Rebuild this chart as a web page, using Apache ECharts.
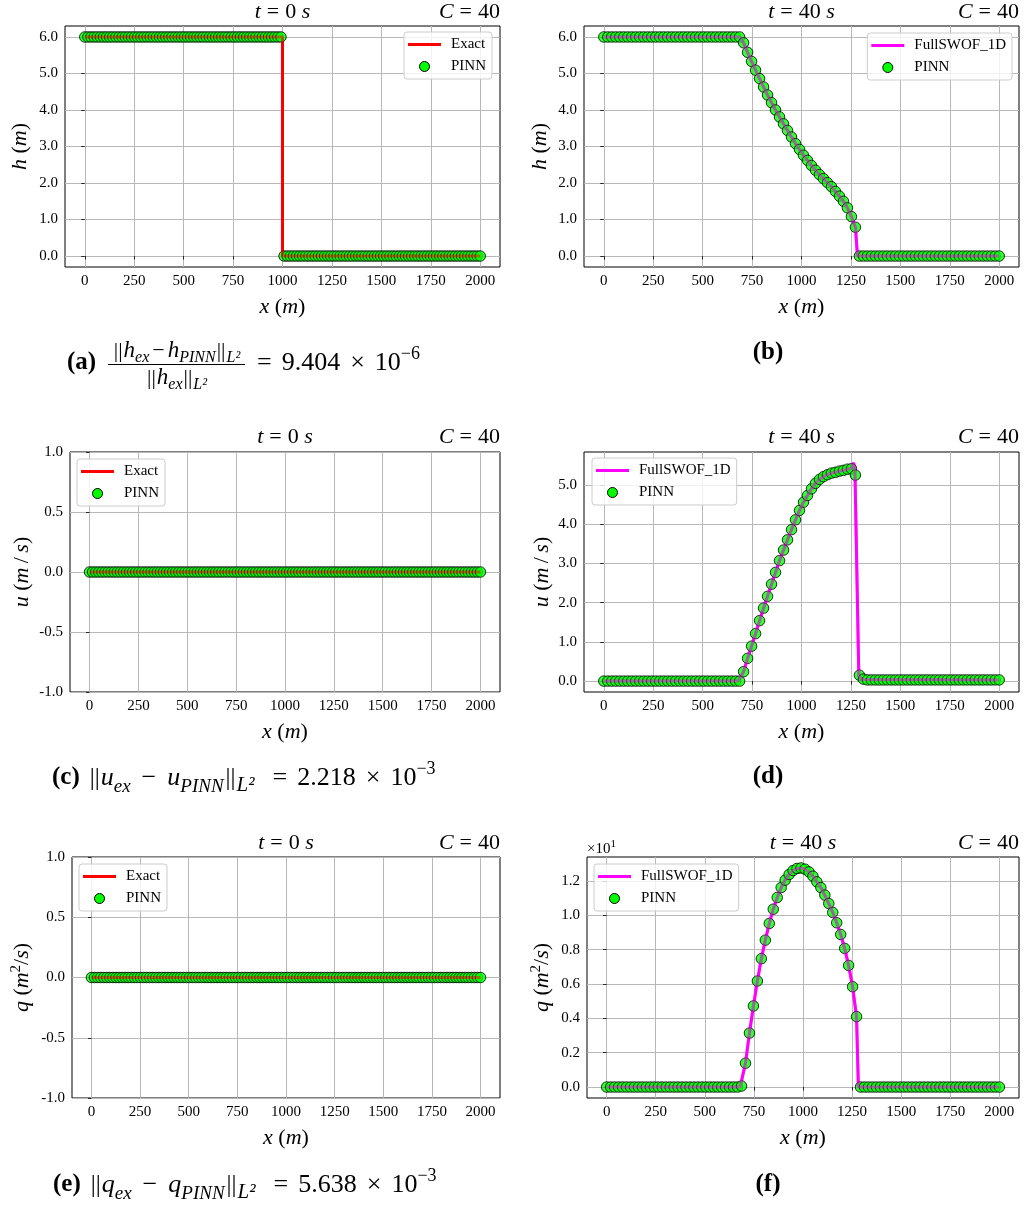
<!DOCTYPE html>
<html><head><meta charset="utf-8">
<script src="https://cdn.jsdelivr.net/npm/echarts@6/dist/echarts.min.js"></script>
<style>html,body{margin:0;padding:0;background:#fff}#c{width:1024px;height:1207px}</style>
</head><body><div id="c"></div><script>
// ---------------- DATA ----------------
const xTicks = [0,250,500,750,1000,1250,1500,1750,2000];
const hTicks = [0,1,2,3,4,5,6];
const uTicks0 = [-1,-0.5,0,0.5,1];
const uTicks40 = [0,1,2,3,4,5];
const qTicks0 = [-1,-0.5,0,0.5,1];
const qTicks40 = [0,2,4,6,8,10,12]; // shown as 0.0..1.2 (x10^1)

// t = 0 s : exact solution
const xExact0 = [0,1000,1000,2000];
const hExact0 = [6,6,0,0];
const uExact0 = [0,0,0,0];
const qExact0 = [0,0,0,0];

// t = 0 s : PINN sample locations (m)
const xPinn0 = [0,15.7,31.5,47.2,63.0,78.7,94.5,110.2,126.0,141.7,
157.5,173.2,189.0,204.7,220.5,236.2,252.0,267.7,283.5,299.2,
315.0,330.7,346.5,362.2,378.0,393.7,409.4,425.2,440.9,456.7,
472.4,488.2,503.9,519.7,535.4,551.2,566.9,582.7,598.4,614.2,
629.9,645.7,661.4,677.2,692.9,708.7,724.4,740.2,755.9,771.7,
787.4,803.1,818.9,834.6,850.4,866.1,881.9,897.6,913.4,929.1,
944.9,960.6,976.4,992.1,1007.9,1023.6,1039.4,1055.1,1070.9,1086.6,
1102.4,1118.1,1133.9,1149.6,1165.4,1181.1,1196.9,1212.6,1228.3,1244.1,
1259.8,1275.6,1291.3,1307.1,1322.8,1338.6,1354.3,1370.1,1385.8,1401.6,
1417.3,1433.1,1448.8,1464.6,1480.3,1496.1,1511.8,1527.6,1543.3,1559.1,
1574.8,1590.6,1606.3,1622.0,1637.8,1653.5,1669.3,1685.0,1700.8,1716.5,
1732.3,1748.0,1763.8,1779.5,1795.3,1811.0,1826.8,1842.5,1858.3,1874.0,
1889.8,1905.5,1921.3,1937.0,1952.8,1968.5,1984.3,2000];
const hPinn0 = [6,6,6,6,6,6,6,6,6,6, 6,6,6,6,6,6,6,6,6,6, 6,6,6,6,6,6,6,6,6,6,
6,6,6,6,6,6,6,6,6,6, 6,6,6,6,6,6,6,6,6,6, 6,6,6,6,6,6,6,6,6,6, 6,6,6,6,
0,0,0,0,0,0,0,0,0,0, 0,0,0,0,0,0,0,0,0,0, 0,0,0,0,0,0,0,0,0,0,
0,0,0,0,0,0,0,0,0,0, 0,0,0,0,0,0,0,0,0,0, 0,0,0,0,0,0,0,0,0,0, 0,0,0,0];
const uPinn0 = [0,0,0,0,0,0,0,0,0,0, 0,0,0,0,0,0,0,0,0,0, 0,0,0,0,0,0,0,0,0,0,
0,0,0,0,0,0,0,0,0,0, 0,0,0,0,0,0,0,0,0,0, 0,0,0,0,0,0,0,0,0,0, 0,0,0,0,
0,0,0,0,0,0,0,0,0,0, 0,0,0,0,0,0,0,0,0,0, 0,0,0,0,0,0,0,0,0,0,
0,0,0,0,0,0,0,0,0,0, 0,0,0,0,0,0,0,0,0,0, 0,0,0,0,0,0,0,0,0,0, 0,0,0,0];
const qPinn0 = [0,0,0,0,0,0,0,0,0,0, 0,0,0,0,0,0,0,0,0,0, 0,0,0,0,0,0,0,0,0,0,
0,0,0,0,0,0,0,0,0,0, 0,0,0,0,0,0,0,0,0,0, 0,0,0,0,0,0,0,0,0,0, 0,0,0,0,
0,0,0,0,0,0,0,0,0,0, 0,0,0,0,0,0,0,0,0,0, 0,0,0,0,0,0,0,0,0,0,
0,0,0,0,0,0,0,0,0,0, 0,0,0,0,0,0,0,0,0,0, 0,0,0,0,0,0,0,0,0,0, 0,0,0,0];

// t = 40 s : PINN sample locations (m)
const xPinn40 = [0,20.2,40.4,60.6,80.8,101.0,121.2,141.4,161.6,181.8,
202.0,222.2,242.4,262.6,282.8,303.0,323.2,343.4,363.6,383.8,
404.0,424.2,444.4,464.6,484.8,505.1,525.3,545.5,565.7,585.9,
606.1,626.3,646.5,666.7,686.9,707.1,727.3,747.5,767.7,787.9,
808.1,828.3,848.5,868.7,888.9,909.1,929.3,949.5,969.7,989.9,
1010.1,1030.3,1050.5,1070.7,1090.9,1111.1,1131.3,1151.5,1171.7,1191.9,
1212.1,1232.3,1252.5,1272.7,1292.9,1313.1,1333.3,1353.5,1373.7,1393.9,
1414.1,1434.3,1454.5,1474.7,1494.9,1515.2,1535.4,1555.6,1575.8,1596.0,
1616.2,1636.4,1656.6,1676.8,1697.0,1717.2,1737.4,1757.6,1777.8,1798.0,
1818.2,1838.4,1858.6,1878.8,1899.0,1919.2,1939.4,1959.6,1979.8,2000];
const hPinn40 = [6,6,6,6,6,6,6,6,6,6, 6,6,6,6,6,6,6,6,6,6, 6,6,6,6,6,6,6,6,6,6,
6,6,6,6,6,5.84,5.58,5.33,5.09,4.86,
4.63,4.41,4.20,4.00,3.81,3.62,3.44,3.26,3.08,2.92,
2.76,2.62,2.48,2.35,2.23,2.12,2.01,1.90,1.77,1.64,
1.50,1.32,1.08,0.79,0,0,0,0,0,0,
0,0,0,0,0,0,0,0,0,0, 0,0,0,0,0,0,0,0,0,0, 0,0,0,0,0,0,0,0,0,0];
const uPinn40 = [0,0,0,0,0,0,0,0,0,0, 0,0,0,0,0,0,0,0,0,0, 0,0,0,0,0,0,0,0,0,0,
0,0,0,0,0,0.24,0.58,0.89,1.21,1.54,
1.86,2.16,2.47,2.77,3.07,3.34,3.60,3.86,4.11,4.35,
4.56,4.73,4.90,5.04,5.14,5.21,5.26,5.30,5.32,5.35,
5.37,5.40,5.41,5.25,0.15,0.05,0.03,0.03,0.03,0.03,
0.03,0.03,0.03,0.03,0.03,0.03,0.03,0.03,0.03,0.03,
0.03,0.03,0.03,0.03,0.03,0.03,0.03,0.03,0.03,0.03,
0.03,0.03,0.03,0.03,0.03,0.03,0.03,0.03,0.03,0.03];
const qPinn40 = [0,0,0,0,0,0,0,0,0,0, 0,0,0,0,0,0,0,0,0,0, 0,0,0,0,0,0,0,0,0,0,
0,0,0,0,0.06,1.39,3.14,4.72,6.17,7.47,
8.55,9.52,10.35,11.03,11.61,12.04,12.37,12.60,12.72,12.75,
12.68,12.52,12.27,11.94,11.61,11.17,10.68,10.16,9.56,8.88,
8.07,7.08,5.84,4.10,0,0,0,0,0,0,
0,0,0,0,0,0,0,0,0,0, 0,0,0,0,0,0,0,0,0,0, 0,0,0,0,0,0,0,0,0,0];

// t = 40 s : FullSWOF_1D reference
const xSwofH = [0,686.9,707.1,727.3,747.5,767.7,787.9,808.1,828.3,848.5,868.7,888.9,909.1,929.3,949.5,969.7,989.9,
1010.1,1030.3,1050.5,1070.7,1090.9,1111.1,1131.3,1151.5,1171.7,1191.9,1212.1,1232.3,1252.5,1272.7,1283,2000];
const hSwof = [6,6,5.84,5.58,5.33,5.09,4.86,4.63,4.41,4.20,4.00,3.81,3.62,3.44,3.26,3.08,2.92,
2.76,2.62,2.48,2.35,2.23,2.12,2.01,1.90,1.77,1.64,1.50,1.32,1.08,0.79,0,0];
const xSwofU = [0,680,707.1,727.3,747.5,767.7,787.9,808.1,828.3,848.5,868.7,888.9,909.1,929.3,949.5,969.7,989.9,
1010.1,1030.3,1050.5,1070.7,1090.9,1111.1,1131.3,1151.5,1171.7,1191.9,1212.1,1232.3,1252.5,1263,1270,1290,1305,2000];
const uSwof = [0,0,0.24,0.58,0.89,1.21,1.54,1.86,2.16,2.47,2.77,3.07,3.34,3.60,3.86,4.11,4.35,
4.56,4.73,4.90,5.04,5.14,5.21,5.26,5.30,5.32,5.35,5.37,5.40,5.43,5.56,5.45,0.12,0.04,0.03];
const xSwofQ = [0,680,707.1,727.3,747.5,767.7,787.9,808.1,828.3,848.5,868.7,888.9,909.1,929.3,949.5,969.7,989.9,
1010.1,1030.3,1050.5,1070.7,1090.9,1111.1,1131.3,1151.5,1171.7,1191.9,1212.1,1232.3,1252.5,1272.7,1282,2000];
const qSwof = [0,0,1.39,3.14,4.72,6.17,7.47,8.55,9.52,10.35,11.03,11.61,12.04,12.37,12.60,12.72,12.75,
12.68,12.52,12.27,11.94,11.61,11.17,10.68,10.16,9.56,8.88,8.07,7.08,5.84,4.10,0,0];

// ---------------- STYLE / LAYOUT ----------------
const SERIF = "'Liberation Serif','DejaVu Serif',serif";
const pairs = (xs, ys) => xs.map((x, i) => [x, ys[i]]);
const f1 = v => v.toFixed(1);

const panels = [
  {g:{left:65,top:26,width:435,height:241}, y:[-0.3,6.3], yt:hTicks, yf:f1,
   yn:'{i|h} {n|(}{i|m}{n|)}', yg:32, ln:'Exact', lc:'#ff0000',
   line:pairs(xExact0,hExact0), pts:pairs(xPinn0,hPinn0), lg:{right:532,top:32}},
  {g:{left:584,top:26,width:435,height:241}, y:[-0.3,6.3], yt:hTicks, yf:f1,
   yn:'{i|h} {n|(}{i|m}{n|)}', yg:31, ln:'FullSWOF_1D', lc:'#ff00ff',
   line:pairs(xSwofH,hSwof), pts:pairs(xPinn40,hPinn40), lg:{right:12,top:33}},
  {g:{left:70,top:452,width:430,height:240}, y:[-1,1], yt:uTicks0, yf:f1,
   yn:'{i|u} {n|(}{i|m}{n|\u2009/\u2009}{i|s}{n|)}', yg:35, ln:'Exact', lc:'#ff0000',
   line:pairs(xExact0,uExact0), pts:pairs(xPinn0,uPinn0), lg:{left:77,top:459}},
  {g:{left:584,top:452,width:435,height:240}, y:[-0.278,5.838], yt:uTicks40, yf:f1,
   yn:'{i|u} {n|(}{i|m}{n|\u2009/\u2009}{i|s}{n|)}', yg:29, ln:'FullSWOF_1D', lc:'#ff00ff',
   line:pairs(xSwofU,uSwof), pts:pairs(xPinn40,uPinn40), lg:{left:592,top:458}},
  {g:{left:72,top:857,width:428,height:241}, y:[-1,1], yt:qTicks0, yf:f1,
   yn:'{i|q} {n|(}{i|m}{p|2}{n|/}{i|s}{n|)}', yg:37, ln:'Exact', lc:'#ff0000',
   line:pairs(xExact0,qExact0), pts:pairs(xPinn0,qPinn0), lg:{left:79,top:864}},
  {g:{left:587,top:857,width:432,height:241}, y:[-0.6375,13.3875], yt:qTicks40, yf:v=>(v/10).toFixed(1),
   yn:'{i|q} {n|(}{i|m}{p|2}{n|/}{i|s}{n|)}', yg:32, ln:'FullSWOF_1D', lc:'#ff00ff',
   line:pairs(xSwofQ,qSwof), pts:pairs(xPinn40,qPinn40), lg:{left:594,top:864}}
];

const nameRich = {
  i:{fontFamily:SERIF,fontSize:22,fontStyle:'italic',color:'#000',lineHeight:26},
  n:{fontFamily:SERIF,fontSize:22,color:'#000',lineHeight:26},
  p:{fontFamily:SERIF,fontSize:15,color:'#000',lineHeight:15,verticalAlign:'top'}
};
const labelStyle = {fontFamily:SERIF,fontSize:15,color:'#000'};
const gridLine = {show:true,lineStyle:{color:'#b8b8b8',width:1}};
const tick = vals => ({show:true,length:3.5,inside:false,customValues:vals,lineStyle:{color:'#000',width:0.8}});

const option = {
  animation:false,
  backgroundColor:'#fff',
  grid:[], xAxis:[], yAxis:[], series:[], legend:[], graphic:[]
};

panels.forEach((p, i) => {
  option.grid.push(Object.assign({show:true,borderColor:'#000',borderWidth:1,backgroundColor:'transparent',outerBoundsMode:'none',containLabel:false}, p.g));
  option.xAxis.push({
    gridIndex:i, type:'value', min:-100, max:2100,
    axisLine:{show:false}, axisTick:tick(xTicks),
    axisLabel:Object.assign({customValues:xTicks,margin:7,formatter:v=>String(v)}, labelStyle),
    splitLine:gridLine,
    name:'{i|x} {n|(}{i|m}{n|)}', nameLocation:'middle', nameGap:27, nameMoveOverlap:false,
    nameTextStyle:{fontFamily:SERIF,fontSize:22,color:'#000',rich:nameRich}
  });
  option.yAxis.push({
    gridIndex:i, type:'value', min:p.y[0], max:p.y[1],
    axisLine:{show:false}, axisTick:tick(p.yt),
    axisLabel:Object.assign({customValues:p.yt,margin:7,formatter:p.yf}, labelStyle),
    splitLine:gridLine,
    name:p.yn, nameLocation:'middle', nameGap:p.yg, nameRotate:90, nameMoveOverlap:false,
    nameTextStyle:{fontFamily:SERIF,fontSize:22,color:'#000',rich:nameRich}
  });
  // reference / exact solution (solid, beneath markers)
  option.series.push({
    type:'line', name:p.ln, xAxisIndex:i, yAxisIndex:i, data:p.line,
    showSymbol:false, symbol:'none', silent:true, z:2,
    lineStyle:{color:p.lc,width:3}, itemStyle:{color:p.lc}
  });
  option.series.push({
    type:'scatter', name:'PINN', xAxisIndex:i, yAxisIndex:i, data:p.pts,
    symbol:'circle', symbolSize:10.5, silent:true, z:3,
    itemStyle:{color:'#00ff00', borderColor:'#000', borderWidth:1}
  });
  // same curve, translucent, over the markers
  option.series.push({
    type:'line', name:p.ln, xAxisIndex:i, yAxisIndex:i, data:p.line,
    showSymbol:false, symbol:'none', silent:true, z:4,
    lineStyle:{color:p.lc,width:3,opacity:0.5}, itemStyle:{color:p.lc}
  });
  option.legend.push(Object.assign({
    orient:'vertical', selectedMode:false, itemWidth:33, itemHeight:10, itemGap:7,
    padding:[5,6,5,4], borderColor:'#cccccc', borderWidth:1, borderRadius:3,
    backgroundColor:'rgba(255,255,255,0.8)',
    textStyle:{fontFamily:SERIF,fontSize:15,color:'#000',padding:[0,0,0,5]},
    data:[
      {name:p.ln, icon:'path://M0,0h33v3h-33z', itemStyle:{color:p.lc,borderWidth:0}},
      {name:'PINN', icon:'circle', itemStyle:{color:'#00ff00',borderColor:'#000',borderWidth:1,opacity:1}}
    ]
  }, p.lg));
});

// ---------------- TEXT (titles, captions) ----------------
const tR = {
  i:{fontFamily:SERIF,fontSize:22,fontStyle:'italic',fill:'#000'},
  n:{fontFamily:SERIF,fontSize:22,fill:'#000'},
  e:{fontFamily:SERIF,fontSize:22,fill:'#000',padding:[0,6,0,6]}
};
const cR = {
  b:{fontFamily:SERIF,fontSize:25,fontWeight:'bold',lineHeight:36,fill:'#000'},
  n:{fontFamily:SERIF,fontSize:26,lineHeight:36,fill:'#000'},
  v:{fontFamily:SERIF,fontSize:25,lineHeight:36,fill:'#000',padding:[0,1,0,10]},
  w:{fontFamily:SERIF,fontSize:25,lineHeight:36,fill:'#000',padding:[0,1,0,2]},
  i:{fontFamily:SERIF,fontSize:26,fontStyle:'italic',lineHeight:36,fill:'#000'},
  o:{fontFamily:SERIF,fontSize:26,lineHeight:36,fill:'#000',padding:[0,11,0,11]},
  q:{fontFamily:SERIF,fontSize:26,lineHeight:36,fill:'#000',padding:[0,10,0,18]},
  e:{fontFamily:SERIF,fontSize:26,lineHeight:36,fill:'#000',padding:[0,10,0,0]},
  x:{fontFamily:SERIF,fontSize:26,lineHeight:36,fill:'#000',padding:[0,10,0,10]},
  s:{fontFamily:SERIF,fontSize:19,fontStyle:'italic',lineHeight:22,verticalAlign:'bottom',fill:'#000'},
  l:{fontFamily:SERIF,fontSize:21,fontStyle:'italic',lineHeight:23,verticalAlign:'bottom',fill:'#000'},
  p:{fontFamily:SERIF,fontSize:18,lineHeight:18,verticalAlign:'top',fill:'#000'}
};
const fR = {
  n:{fontFamily:SERIF,fontSize:22,lineHeight:30,fill:'#000'},
  w:{fontFamily:SERIF,fontSize:22,lineHeight:30,fill:'#000',padding:[0,1,0,1]},
  i:{fontFamily:SERIF,fontSize:23,fontStyle:'italic',lineHeight:30,fill:'#000'},
  o:{fontFamily:SERIF,fontSize:22,lineHeight:30,fill:'#000',padding:[0,3,0,3]},
  s:{fontFamily:SERIF,fontSize:16,fontStyle:'italic',lineHeight:18,verticalAlign:'bottom',fill:'#000'}
};
const oR = {
  n:{fontFamily:SERIF,fontSize:15,lineHeight:20,fill:'#000'},
  p:{fontFamily:SERIF,fontSize:11,lineHeight:11,verticalAlign:'top',fill:'#000'}
};
function T(x, y, text, rich, align) {
  return {type:'text', x:x, y:y, silent:true, z:10,
    style:{text:text, rich:rich, align:align||'left', verticalAlign:'middle', fontFamily:SERIF, fontSize:20, fill:'#000'}};
}
const titles = [
  [282.5,12,'0',500],[801.5,12,'40',1019],
  [285,437,'0',500],[801.5,437,'40',1019],
  [286,843.5,'0',500],[803,843.5,'40',1019]
];
titles.forEach(t => {
  option.graphic.push(T(t[0], t[1], '{i|t}{e|=}{n|' + t[2] + ' }{i|s}', tR, 'center'));
  option.graphic.push(T(t[3], t[1], '{i|C}{e|=}{n|40}', tR, 'right'));
});
// offset text for panel (f)
option.graphic.push(T(587, 849, '{n|×10}{p|1}', oR, 'left'));
// captions
option.graphic.push(T(67, 363, '{b|(a)}', cR, 'left'));
option.graphic.push(T(176.5, 351, '{w|||}{i|h}{s|ex}{o|−}{i|h}{s|PINN}{w|||}{s|L²}', fR, 'center'));
option.graphic.push({type:'line', silent:true, z:10, shape:{x1:108,y1:364.5,x2:245,y2:364.5}, style:{stroke:'#000',lineWidth:1}});
option.graphic.push(T(176.5, 378, '{w|||}{i|h}{s|ex}{w|||}{s|L²}', fR, 'center'));
option.graphic.push(T(257, 363, '{e|=}{n|9.404}{x|×}{n|10}{p|−6}', cR, 'left'));
option.graphic.push(T(768, 353, '{b|(b)}', cR, 'center'));
option.graphic.push(T(52, 778, '{b|(c)}{v|||}{i|u}{s|ex}{o|−}{i|u}{s|PINN}{w|||}{l|L²}{q|=}{n|2.218}{x|×}{n|10}{p|−3}', cR, 'left'));
option.graphic.push(T(768, 777, '{b|(d)}', cR, 'center'));
option.graphic.push(T(53, 1185, '{b|(e)}{v|||}{i|q}{s|ex}{o|−}{i|q}{s|PINN}{w|||}{l|L²}{q|=}{n|5.638}{x|×}{n|10}{p|−3}', cR, 'left'));
option.graphic.push(T(768, 1185, '{b|(f)}', cR, 'center'));

const chart = echarts.init(document.getElementById('c'), null, {renderer:'canvas'});
chart.setOption(option);
</script></body></html>
